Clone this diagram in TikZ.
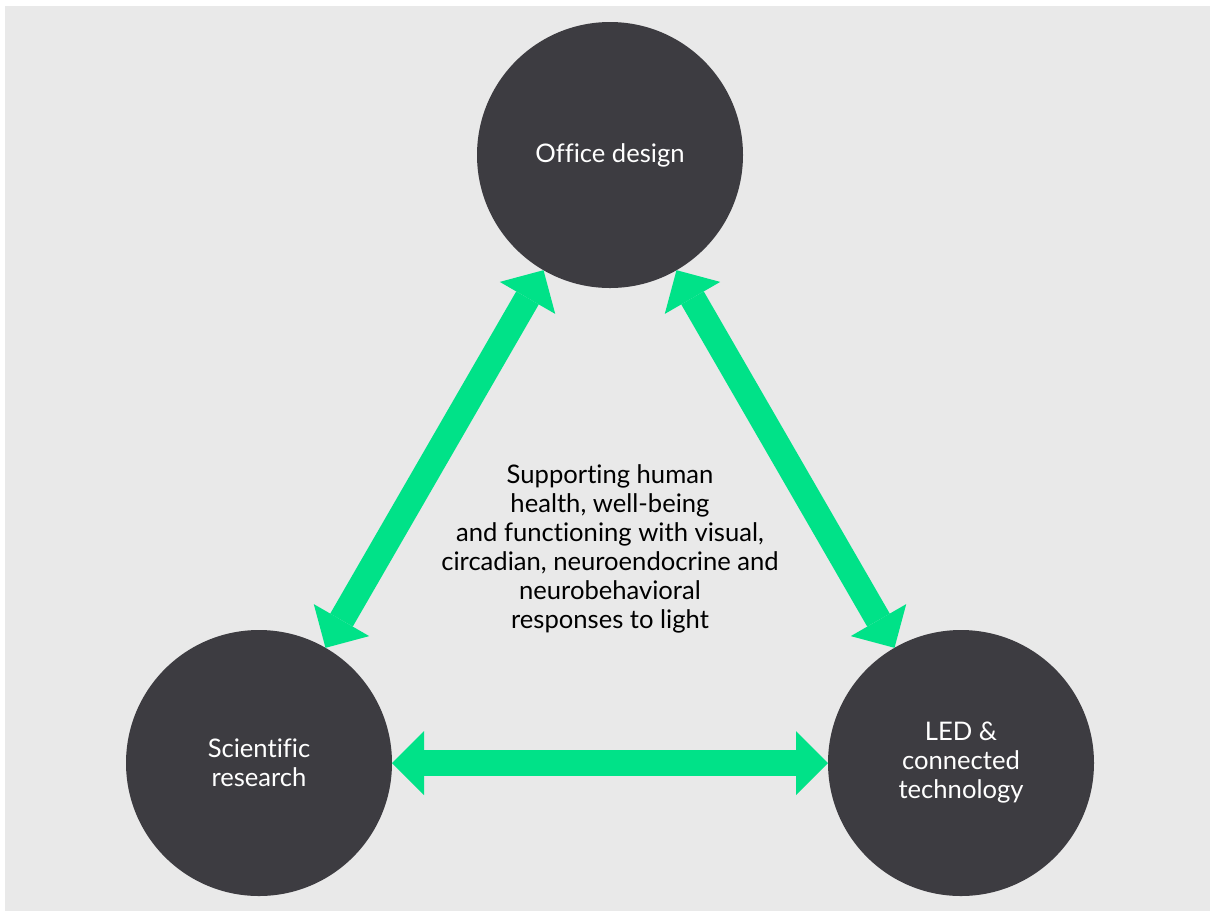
\documentclass[tikz,border=0pt]{standalone}
\usepackage{fontspec}
\setmainfont{Lato}[Ligatures=NoCommon]
\usepackage{xcolor}
\usetikzlibrary{arrows.meta}
\definecolor{panelgrey}{RGB}{233,233,233}
\definecolor{discgrey}{RGB}{61,60,65}
\definecolor{linkgreen}{RGB}{0,226,136}

\begin{document}
\begin{tikzpicture}[x=0.5pt, y=-0.5pt,
  every node/.style={font=\fontsize{12.8}{14.5}\selectfont, align=center},
  topic/.style={circle, fill=discgrey, text=white, minimum size=133pt, inner sep=0pt, outer sep=0pt},
  link/.style={draw=linkgreen, line width=13pt,
    {Triangle[length=16pt,width=32pt,line width=0pt]}-{Triangle[length=16pt,width=32pt,line width=0pt]}}]
\useasboundingbox (0,0) rectangle (1211,912);
\fill[panelgrey] (5,6) rectangle (1210,911);
% topics
\node[topic] (office) at (610,155) {Office design};
\node[topic] (science) at (259,763) {Scientific\\research};
\node[topic] (led) at (961,763) {LED \&\\connected\\technology};
% links
\draw[link] (science) -- (office);
\draw[link] (office) -- (led);
\draw[link] (science) -- (led);
% centre
\node (aim) at (610,549) {Supporting human\\health, well-being\\and functioning with visual,\\circadian, neuroendocrine and\\neurobehavioral\\responses to light};
\end{tikzpicture}
\end{document}
